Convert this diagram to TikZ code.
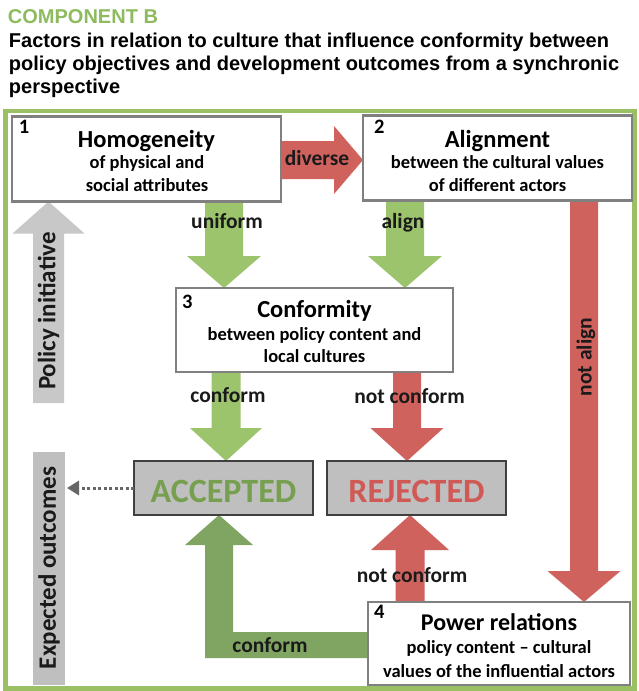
\documentclass[tikz,border=0pt]{standalone}
\usepackage{fontspec}
\setmainfont{Carlito}
\newfontfamily\headfont{Liberation Sans}
\usetikzlibrary{calc,arrows.meta,backgrounds}

\definecolor{framegreen}{HTML}{9BBF63}
\definecolor{headgreen}{HTML}{8DBB5E}
\definecolor{lightgreen}{HTML}{9CC46C}
\definecolor{darkgreen}{HTML}{80A562}
\definecolor{arrred}{HTML}{D0625E}
\definecolor{accgreen}{HTML}{76A04F}
\definecolor{rejred}{HTML}{D05955}
\definecolor{boxgray}{HTML}{808080}
\definecolor{outline}{HTML}{404040}
\definecolor{fillgray}{HTML}{BFBFBF}
\definecolor{arrgray}{HTML}{C8C8C8}
\definecolor{dotgray}{HTML}{666666}
\definecolor{labeltext}{HTML}{1A1A1A}

\newcommand\fsz[1]{\fontsize{#1}{#1}\selectfont}

% vertical block arrow: colour, start, tip, shaft half-width, head half-width,
% signed offset from the tip to the head base (negative = arrow points down)
\newcommand\vfat[6]{%
  \fill[#1] ($(#2)+(-#4,0)$) -- ($(#2 |- #3)+(-#4,#6)$) -- ($(#2 |- #3)+(-#5,#6)$)
    -- (#2 |- #3) -- ($(#2 |- #3)+(#5,#6)$) -- ($(#2 |- #3)+(#4,#6)$)
    -- ($(#2)+(#4,0)$) -- cycle;}
% horizontal block arrow pointing right
\newcommand\hfat[6]{%
  \fill[#1] ($(#2)+(0,-#4)$) -- ($(#2 -| #3)+(-#6,-#4)$) -- ($(#2 -| #3)+(-#6,-#5)$)
    -- (#2 -| #3) -- ($(#2 -| #3)+(-#6,#5)$) -- ($(#2 -| #3)+(-#6,#4)$)
    -- ($(#2)+(0,#4)$) -- cycle;}

\begin{document}
\begin{tikzpicture}[x=1pt,y=-1pt,
  every node/.style={inner sep=0pt, outer sep=0pt},
  box/.style={draw=boxgray, line width=2.5pt, fill=white, rectangle},
  outcome/.style={draw=outline, line width=1.4pt, fill=fillgray, rectangle,
    minimum width=179pt, minimum height=54pt},
  boxtitle/.style={anchor=base, font=\bfseries\fsz{24.5}},
  boxsub/.style={anchor=base, font=\bfseries\fsz{18.5}},
  boxnum/.style={anchor=base west, font=\bfseries\fsz{20.5}},
  lbl/.style={anchor=base, font=\bfseries\fsz{21.5}, text=labeltext},
  headline/.style={anchor=base west, font=\headfont\bfseries\fsz{20}},
  sidelabel/.style={rotate=90, font=\bfseries\fsz{25}, text=labeltext}]

\useasboundingbox (0,0) rectangle (638,691);

% heading
\node[headline, text=headgreen, font=\headfont\bfseries\fsz{20}] (hd) at (8,23) {COMPONENT B};
\node[headline] (t1) at (9,47) {Factors in relation to culture that influence conformity between};
\node[headline] (t2) at (9,70) {policy objectives and development outcomes from a synchronic};
\node[headline] (t3) at (9,93) {perspective};

% outer frame
\draw[framegreen, line width=4.5pt] (5.5,111) rectangle (634.5,688.5);

% factor boxes
\node[box, minimum width=269pt, minimum height=85pt] (b1) at (146.5,159) {};
\node[box, minimum width=269pt, minimum height=85pt] (b2) at (497.5,158) {};
\node[box, minimum width=277pt, minimum height=84pt] (b3) at (314.5,330) {};
\node[box, minimum width=262pt, minimum height=83pt] (b4) at (499,643.5) {};

% outcome boxes
\node[outcome] (acc) at (223.5,488) {};
\node[outcome] (rej) at (416.5,488) {};

% box texts
\node[boxnum] (n1) at (19,133) {1};
\node[boxtitle] (h1) at (146.5,147) {Homogeneity};
\node[boxsub] (s1a) at (147,168) {of physical and};
\node[boxsub] (s1b) at (147,191) {social attributes};

\node[boxnum] (n2) at (374,133) {2};
\node[boxtitle] (h2) at (497.5,147) {Alignment};
\node[boxsub] (s2a) at (497.5,168) {between the cultural values};
\node[boxsub] (s2b) at (497.5,191) {of different actors};

\node[boxnum] (n3) at (182,308) {3};
\node[boxtitle] (h3) at (314.5,317) {Conformity};
\node[boxsub] (s3a) at (314.5,340) {between policy content and};
\node[boxsub] (s3b) at (314.5,362) {local cultures};

\node[boxnum] (n4) at (374,618) {4};
\node[boxtitle, font=\bfseries\fsz{24}] (h4) at (499,630) {Power relations};
\node[boxsub] (s4a) at (499,653) {policy content -- cultural};
\node[boxsub] (s4b) at (499,677) {values of the influential actors};

\node[anchor=base, font=\bfseries\fsz{34}, text=accgreen] (acct) at (223.5,502) {ACCEPTED};
\node[anchor=base, font=\bfseries\fsz{34}, text=rejred] (rejt) at (416.5,502) {REJECTED};

% side labels
\node[fill=fillgray, rotate=90, minimum width=233pt, minimum height=32pt] (eo) at (49,568.5) {};
\node[sidelabel] (eot) at (49,568) {Expected outcomes};

% arrow anchor coordinates
\coordinate (dvY) at (0,160);
\coordinate (dvA) at (b1.east |- dvY);
\coordinate (dvB) at (b2.west |- dvY);
\coordinate (uniX) at (224,0);
\coordinate (uniA) at (b1.south -| uniX);
\coordinate (uniB) at (b3.north -| uniX);
\coordinate (alX) at (405,0);
\coordinate (alA) at (b2.south -| alX);
\coordinate (alB) at (b3.north -| alX);
\coordinate (cfX) at (226,0);
\coordinate (cfA) at (b3.south -| cfX);
\coordinate (cfB) at (acc.north -| cfX);
\coordinate (ncX) at (407,0);
\coordinate (ncA) at (b3.south -| ncX);
\coordinate (ncB) at (rej.north -| ncX);
\coordinate (naX) at (584,0);
\coordinate (naA) at (b2.south -| naX);
\coordinate (naB) at (b4.north -| naX);
\coordinate (urX) at (410,0);
\coordinate (urA) at (b4.north -| urX);
\coordinate (urB) at (rej.south -| urX);
\coordinate (piA) at (48.5,403);
\coordinate (piB) at (b1.south -| piA);
\coordinate (gX) at (219,645);
\coordinate (eoTip) at (67,488);

\begin{scope}[on background layer]
  \fill[white] (0,0) rectangle (638,691);
  \hfat{arrred}{dvA}{dvB}{19}{34}{29}
  \vfat{lightgreen}{uniA}{uniB}{19}{37}{-32}
  \vfat{lightgreen}{alA}{alB}{19}{37}{-32}
  \vfat{lightgreen}{cfA}{cfB}{14.5}{36}{-33}
  \vfat{arrred}{ncA}{ncB}{14}{36.5}{-33}
  \vfat{arrred}{naA}{naB}{14}{36.5}{-31}
  \vfat{arrred}{urA}{urB}{14.5}{39}{35}
  \vfat{arrgray}{piA}{piB}{15.5}{36}{32}
  % L-shaped arrow from the power relations box up to ACCEPTED
  \fill[darkgreen] ($(b4.west |- gX)+(0,-13)$) -- ($(gX)+(14,-13)$)
    -- ($(acc.south -| gX)+(14,30)$) -- ($(acc.south -| gX)+(34,30)$)
    -- (acc.south -| gX) -- ($(acc.south -| gX)+(-34,30)$)
    -- ($(acc.south -| gX)+(-14,30)$) -- ($(gX)+(-14,13)$)
    -- ($(b4.west |- gX)+(0,13)$) -- cycle;
\end{scope}

\node[sidelabel] (pit) at (48.5,311) {Policy initiative};

% dotted link to the outcomes label
\draw[dotgray, line width=3pt, dash pattern=on 3pt off 2.5pt,
  -{Triangle[length=12pt,width=14pt]}] (acc.west) -- (eoTip);

% arrow labels
\node[lbl] (ldiv) at (317,165) {diverse};
\node[lbl] (luni) at (227,228) {uniform};
\node[lbl] (lal) at (403,228) {align};
\node[lbl] (lcf) at (228,402) {conform};
\node[lbl] (lnc) at (409.5,403) {not conform};
\node[lbl] (lnc2) at (412,582) {not conform};
\node[lbl] (lcf2) at (270,652) {conform};
\node[lbl, anchor=center, rotate=90] (lna) at (586,357) {not align};

\end{tikzpicture}
\end{document}
